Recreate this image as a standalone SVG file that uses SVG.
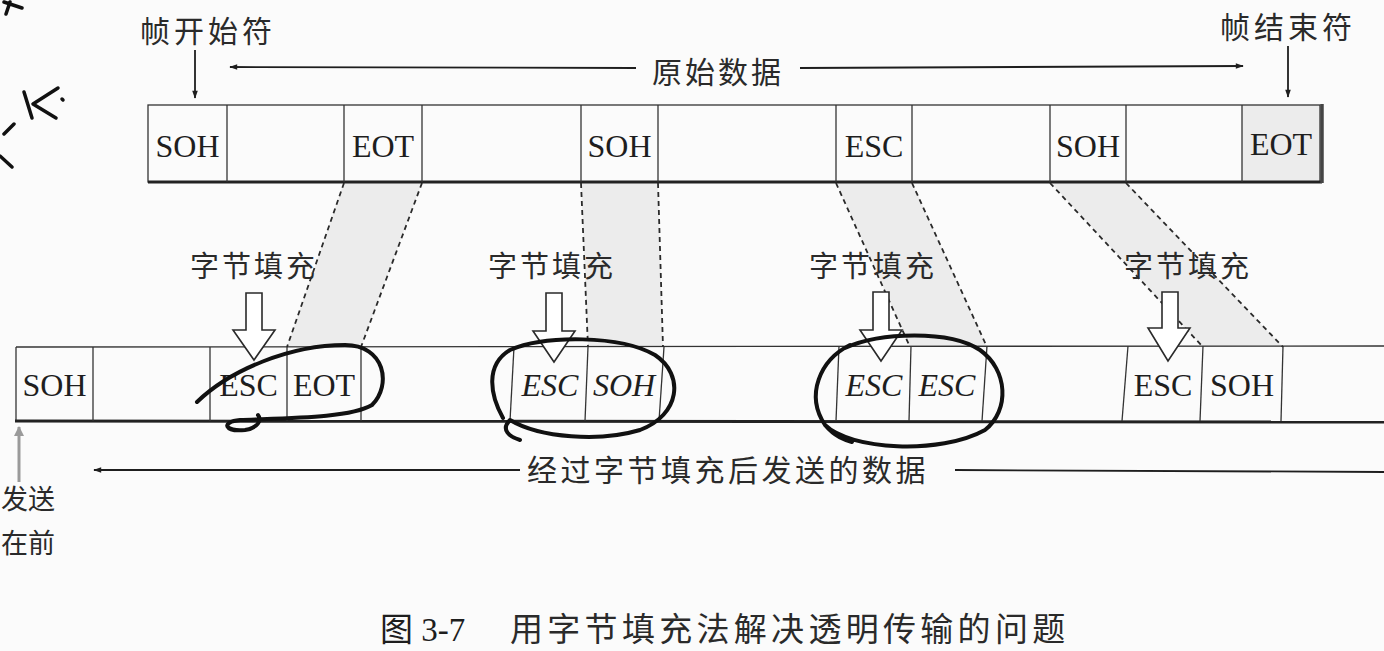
<svg xmlns="http://www.w3.org/2000/svg" width="1384" height="651" viewBox="0 0 1384 651">
<defs>
<style>
.lat{font-family:"Liberation Serif","Noto Sans CJK SC",serif;font-size:32px;fill:#1e1e1e;text-anchor:middle}
.it{font-style:italic}
.cjk{font-family:"Noto Sans CJK SC","Noto Sans CJK TC",sans-serif;font-size:29px;fill:#2a2a2a;letter-spacing:3px}
.cell{fill:none;stroke:#333;stroke-width:1.3}
.dash{stroke:#2a2a2a;stroke-width:1.8;stroke-dasharray:5 4;fill:none}
.shade{fill:#ececec}
.blk{fill:#fff;stroke:#2a2a2a;stroke-width:1.6;stroke-linejoin:miter}
.hand{fill:none;stroke:#111;stroke-width:4;stroke-linecap:round;stroke-linejoin:round}
.ln{stroke:#1e1e1e;stroke-width:1.8;fill:none}
</style>
<marker id="ah" viewBox="0 0 10 10" refX="9" refY="5" markerWidth="14" markerHeight="8" orient="auto" markerUnits="userSpaceOnUse">
<path d="M0,1.5 L10,5 L0,8.5 Z" fill="#1e1e1e"/>
</marker>
<marker id="ahg" viewBox="0 0 10 10" refX="9" refY="5" markerWidth="16" markerHeight="10" orient="auto" markerUnits="userSpaceOnUse">
<path d="M0,0 L10,5 L0,10 Z" fill="#9a9a9a"/>
</marker>
</defs>
<rect width="1384" height="651" fill="#fbfbfb"/>

<!-- handwritten scribbles -->
<g id="scribbles" class="hand" style="stroke-width:3.5">
<path d="M4,2 L22,8 M6,14 L10,2"/>
<path d="M24,92 L32,118 M58,88 L33,104 L56,118"/>
<path d="M62,99 L63,100"/>
<path d="M14,124 L4,134 M0,156 L12,167"/>
</g>

<!-- shaded bands -->
<g id="bands">
<polygon class="shade" points="344,182 422,182 361,347 287,347"/>
<polygon class="shade" points="581,182 658,182 663,347 588,347"/>
<polygon class="shade" points="836,182 912,182 987,347 910,347"/>
<polygon class="shade" points="1050,182 1126,182 1283,347 1203,347"/>
</g>

<!-- top frame -->
<g id="top-frame">
<rect x="1242" y="105" width="78" height="77" fill="#ececec"/>
<rect class="cell" x="148" y="105" width="1172" height="77"/>
<line x1="148" y1="182" x2="1322" y2="182" stroke="#222" stroke-width="3"/>
<line x1="1322" y1="104" x2="1322" y2="183" stroke="#444" stroke-width="3.5"/>
<g class="cell">
<line x1="227" y1="105" x2="227" y2="182"/>
<line x1="344" y1="105" x2="344" y2="182"/>
<line x1="422" y1="105" x2="422" y2="182"/>
<line x1="581" y1="105" x2="581" y2="182"/>
<line x1="658" y1="105" x2="658" y2="182"/>
<line x1="836" y1="105" x2="836" y2="182"/>
<line x1="912" y1="105" x2="912" y2="182"/>
<line x1="1050" y1="105" x2="1050" y2="182"/>
<line x1="1126" y1="105" x2="1126" y2="182"/>
<line x1="1242" y1="105" x2="1242" y2="182"/>
</g>
<text class="lat" x="187.5" y="157">SOH</text>
<text class="lat" x="383" y="157">EOT</text>
<text class="lat" x="619.5" y="157">SOH</text>
<text class="lat" x="874" y="157">ESC</text>
<text class="lat" x="1088" y="157">SOH</text>
<text class="lat" x="1281" y="155">EOT</text>
</g>

<!-- bottom frame -->
<g id="bottom-frame">
<line x1="16" y1="347" x2="1384" y2="346" class="cell"/>
<line x1="16" y1="347" x2="16" y2="421" class="cell"/>
<line x1="15" y1="421" x2="1384" y2="422" stroke="#222" stroke-width="3"/>
<g class="cell">
<line x1="93" y1="347" x2="93" y2="421"/>
<line x1="210" y1="347" x2="210" y2="421"/>
<line x1="287" y1="347" x2="287" y2="421"/>
<line x1="361" y1="347" x2="361" y2="421"/>
<line x1="514" y1="347" x2="510" y2="421"/>
<line x1="588" y1="347" x2="585" y2="421"/>
<line x1="664" y1="347" x2="659" y2="421"/>
<line x1="839" y1="346" x2="836" y2="421"/>
<line x1="911" y1="346" x2="909" y2="421"/>
<line x1="987" y1="346" x2="982" y2="421"/>
<line x1="1128" y1="346" x2="1122" y2="421"/>
<line x1="1203" y1="346" x2="1200" y2="421"/>
<line x1="1283" y1="346" x2="1281" y2="421"/>
</g>
<text class="lat" x="54.5" y="396">SOH</text>
<text class="lat" x="248.5" y="396">ESC</text>
<text class="lat" x="324" y="396">EOT</text>
<text class="lat it" x="550" y="396">ESC</text>
<text class="lat it" x="624" y="396">SOH</text>
<text class="lat it" x="874" y="396">ESC</text>
<text class="lat it" x="947" y="396">ESC</text>
<text class="lat" x="1163" y="396">ESC</text>
<text class="lat" x="1242" y="396">SOH</text>
</g>

<!-- connectors -->
<g id="connectors">
<line class="dash" x1="344" y1="183" x2="287" y2="347"/>
<line class="dash" x1="422" y1="183" x2="361" y2="347"/>
<line class="dash" x1="581" y1="183" x2="588" y2="347"/>
<line class="dash" x1="658" y1="183" x2="663" y2="347"/>
<line class="dash" x1="836" y1="183" x2="910" y2="347"/>
<line class="dash" x1="912" y1="183" x2="987" y2="347"/>
<line class="dash" x1="1050" y1="183" x2="1203" y2="347"/>
<line class="dash" x1="1126" y1="183" x2="1283" y2="347"/>
<line class="ln" x1="195" y1="50" x2="195" y2="98" marker-end="url(#ah)"/>
<line class="ln" x1="1288" y1="46" x2="1288" y2="97" marker-end="url(#ah)"/>
<line class="ln" x1="636" y1="68" x2="230" y2="67" marker-end="url(#ah)"/>
<line class="ln" x1="800" y1="68" x2="1243" y2="66" marker-end="url(#ah)"/>
<line class="ln" x1="520" y1="470" x2="94" y2="470" marker-end="url(#ah)"/>
<line class="ln" x1="955" y1="470" x2="1384" y2="472"/>
<line x1="19" y1="482" x2="19" y2="427" stroke="#9a9a9a" stroke-width="3" marker-end="url(#ahg)"/>
</g>

<!-- byte stuffing block arrows -->
<g id="stuff-1">
<text class="cjk" x="190" y="277">字节填充</text>
<polygon class="blk" points="246,293 262,293 262,330 275,330 254,360 233,330 246,330"/>
</g>
<g id="stuff-2">
<text class="cjk" x="488" y="277">字节填充</text>
<polygon class="blk" points="546,293 562,293 562,331 575,331 554,362 533,331 546,331"/>
</g>
<g id="stuff-3">
<text class="cjk" x="809" y="277">字节填充</text>
<polygon class="blk" points="873,292 889,292 889,330 902,330 881,361 860,330 873,330"/>
</g>
<g id="stuff-4">
<text class="cjk" x="1124" y="277">字节填充</text>
<polygon class="blk" points="1162,292 1178,292 1178,328 1190,328 1168,361 1148,328 1162,328"/>
</g>

<!-- hand-drawn circles -->
<g id="circles" class="hand">
<path d="M197,402 C230,370 290,345 345,345 C385,345 392,385 372,405 C350,418 290,418 240,420 C220,422 225,432 245,430 C258,428 262,420 258,415"/>
<path d="M503,418 C490,395 485,365 510,350 C545,335 620,335 655,355 C685,375 680,415 640,430 C600,442 540,438 510,420 C500,430 510,437 520,440"/>
<path d="M850,345 C820,360 805,395 825,425 C850,450 940,455 985,430 C1010,410 1008,370 980,350 C950,330 880,332 845,348 M825,425 C835,437 845,440 852,442"/>
</g>

<!-- labels -->
<g id="labels">
<text class="cjk" x="140" y="42" style="font-size:30px;letter-spacing:4px">帧开始符</text>
<text class="cjk" x="1220" y="38" style="font-size:30px;letter-spacing:4px">帧结束符</text>
<text class="cjk" x="652" y="83" style="font-size:30px">原始数据</text>
<text class="cjk" x="527" y="481" style="font-size:30px;letter-spacing:3.5px">经过字节填充后发送的数据</text>
<text class="cjk" x="1" y="509" style="font-size:27px;letter-spacing:0px">发送</text>
<text class="cjk" x="1" y="553" style="font-size:27px;letter-spacing:0px">在前</text>
</g>

<!-- caption -->
<g id="caption">
<text x="380" y="641" style="font-family:'Liberation Serif','Noto Sans CJK SC',serif;font-size:33px;fill:#1e1e1e">图 3-7</text>
<text class="cjk" x="510" y="641" style="font-size:33px;letter-spacing:4.3px">用字节填充法解决透明传输的问题</text>
</g>
</svg>
